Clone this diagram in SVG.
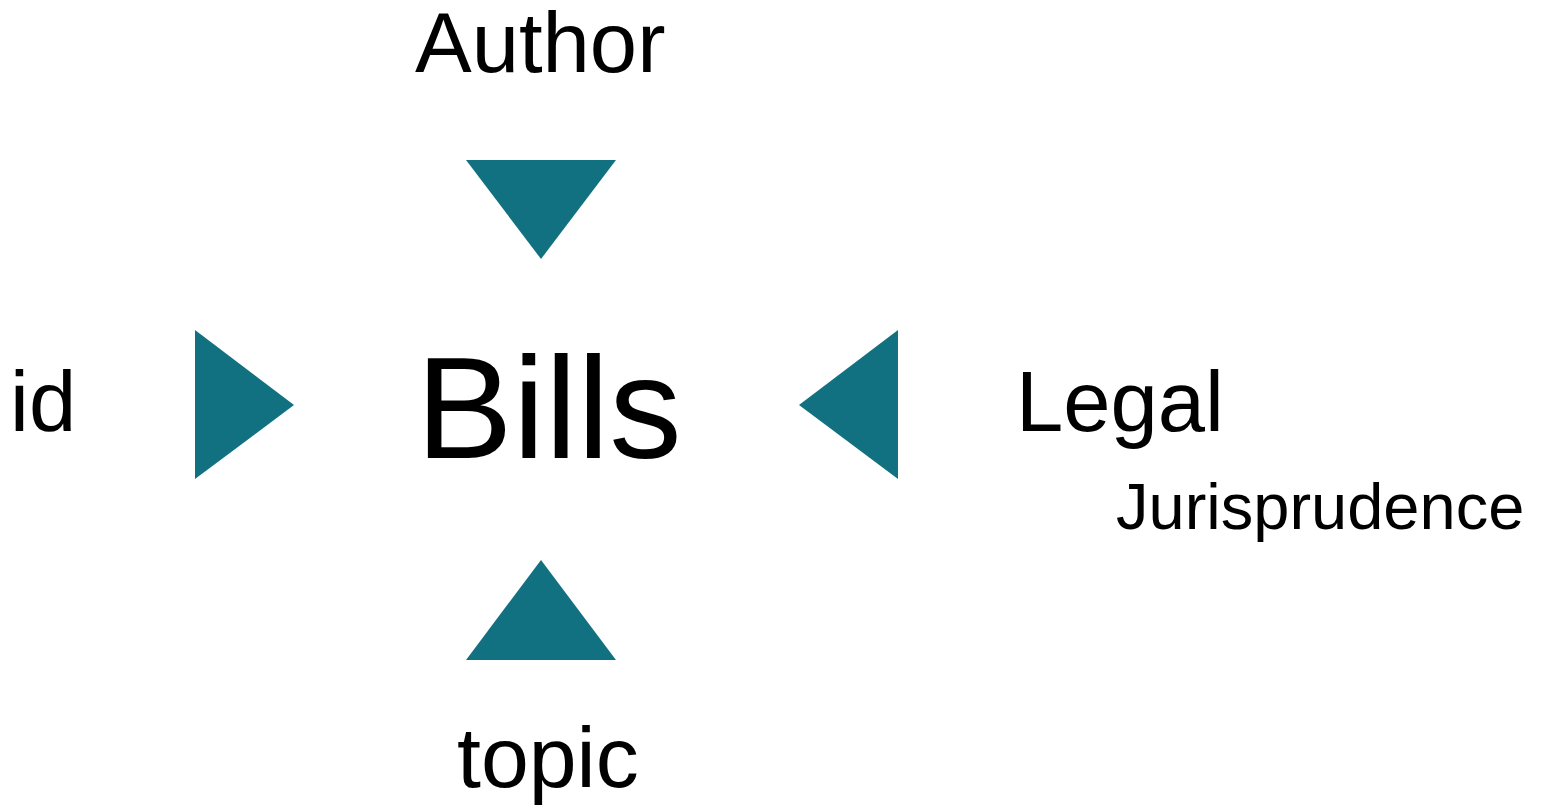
<svg xmlns="http://www.w3.org/2000/svg" width="1541" height="808" viewBox="0 0 1541 808">
<style>
.t{font-family:"Liberation Sans",Arial,sans-serif;fill:#000}
.tri{fill:#117180}
</style>
<rect width="1541" height="808" fill="#fff"/>
<g id="connectors">
<polygon class="tri" points="466,160 616,160 541,259"/>
<polygon class="tri" points="195,330 195,479 294,405"/>
<polygon class="tri" points="898,330 898,479 799,405"/>
<polygon class="tri" points="466,660 616,660 541,560"/>
</g>
<g id="node-bills"><text class="t" x="416" y="458" font-size="145">Bills</text></g>
<g id="node-author"><text class="t" x="415" y="72" font-size="85">Author</text></g>
<g id="node-id"><text class="t" x="10" y="431" font-size="85">id</text></g>
<g id="node-legal"><text class="t" x="1016" y="431" font-size="85">Legal</text><text class="t" x="1116" y="529" font-size="65">Jurisprudence</text></g>
<g id="node-topic"><text class="t" x="457" y="787" font-size="86">topic</text></g>
</svg>
